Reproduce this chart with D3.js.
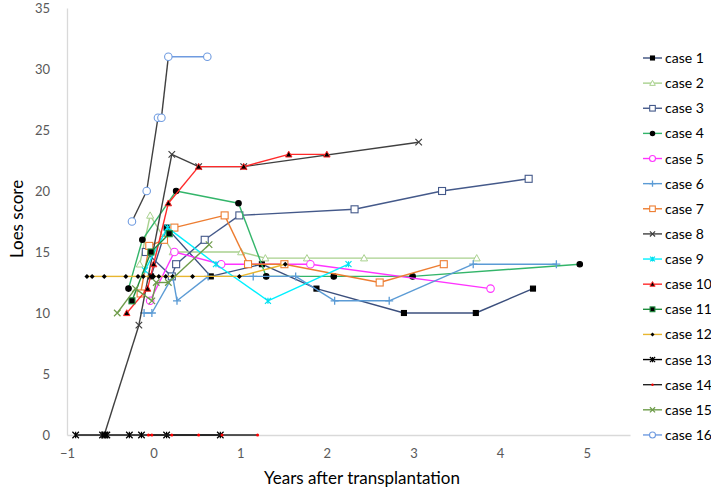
<!DOCTYPE html>
<html><head><meta charset="utf-8">
<script src="https://cdn.jsdelivr.net/npm/d3@7/dist/d3.min.js"></script>
<style>body{margin:0;background:#fff;} svg{display:block;font-family:Lato, "Open Sans", sans-serif;}</style>
</head><body>
<svg id="chart" width="711" height="491"></svg>
<script>
// ---- data ----
const seriesNames = ["case 1","case 2","case 3","case 4","case 5","case 6","case 7","case 8",
  "case 9","case 10","case 11","case 12","case 13","case 14","case 15","case 16"];
const case1X = [-0.03,0.15,0.66,1.25,1.88,2.89,3.72,4.38];
const case1Y = [13,17,13,14,12,10,10,12];
const case2X = [-0.16,-0.04,0.22,1.01,1.29,1.77,2.43,3.73];
const case2Y = [14,18,15,15,14.5,14.5,14.5,14.5];
const case3X = [-0.09,0.21,0.26,0.59,0.99,2.32,3.33,4.33];
const case3Y = [15,13,14,16,18,18.5,20,21];
const case4X = [-0.29,-0.13,0.26,0.98,1.30,2.08,2.99,4.92];
const case4Y = [12,16,20,19,13,13,13,14];
const case5X = [-0.04,0.24,0.78,1.81,3.89];
const case5Y = [11,15,14,14,12];
const case6X = [-0.11,-0.02,0.22,0.27,0.63,1.15,1.64,2.09,2.72,3.69,4.65];
const case6Y = [10,10,13,11,13,13,13,11,11,14,14];
const case7X = [-0.15,-0.05,0.12,0.24,0.82,1.09,1.51,2.61,3.35];
const case7Y = [11.6,15.5,16,17,18,14,14,12.5,14];
const case8X = [-0.57,-0.17,0.21,0.52,1.04,3.06];
const case8Y = [0,9,23,22,22,24];
const case9X = [-0.1,0.16,0.72,1.32,2.25];
const case9Y = [13.5,17,14,11,14];
const case10X = [-0.31,-0.07,0.0,0.17,0.52,1.04,1.56,2.0];
const case10Y = [10,12,14,19,22,22,23,23];
const case11X = [-0.25,-0.03,0.18];
const case11Y = [11,15,16.5];
const case12X = [-0.77,-0.71,-0.57,-0.32,-0.18,-0.12,-0.03,0.0,0.06,0.14,0.22,0.45,0.99,1.52];
const case12Y = [13,13,13,13,13,13,13,13,13,13,13,13,13,14];
const case13X = [-0.90,-0.59,-0.56,-0.54,-0.28,-0.14,0.15,0.77];
const case13Y = [0,0,0,0,0,0,0,0];
const case14X = [-0.06,-0.02,0.21,0.52,0.79,1.20];
const case14Y = [0,0,0,0,0,0];
const case15X = [-0.42,-0.21,-0.02,0.03,0.17,0.64];
const case15Y = [10,12,11,12.5,12.5,15.6];
const case16X = [-0.25,-0.08,0.05,0.09,0.17,0.62];
const case16Y = [17.5,20,26,26,31,31];
const xTicks = [-1,0,1,2,3,4,5];
const yTicks = [0,5,10,15,20,25,30,35];

const allX = [case1X,case2X,case3X,case4X,case5X,case6X,case7X,case8X,case9X,case10X,case11X,case12X,case13X,case14X,case15X,case16X];
const allY = [case1Y,case2Y,case3Y,case4Y,case5Y,case6Y,case7Y,case8Y,case9Y,case10Y,case11Y,case12Y,case13Y,case14Y,case15Y,case16Y];

// ---- styles ----
const styles = [
  {stroke:"#3b4f7d", marker:"square", fill:"#000", mstroke:"#000", size:5},
  {stroke:"#a9d18e", marker:"triangle", fill:"#fff", mstroke:"#a9d18e", size:7},
  {stroke:"#44598a", marker:"square", fill:"#fff", mstroke:"#44598a", size:7},
  {stroke:"#33b56a", marker:"circle", fill:"#000", mstroke:"#000", size:5.5},
  {stroke:"#ff33ff", marker:"circle", fill:"#fff", mstroke:"#ff33ff", size:7.5},
  {stroke:"#5b9bd5", marker:"plus", fill:"none", mstroke:"#5b9bd5", size:8},
  {stroke:"#ed7d31", marker:"square", fill:"#fff", mstroke:"#ed7d31", size:7},
  {stroke:"#404040", marker:"x", fill:"none", mstroke:"#404040", size:6.5},
  {stroke:"#00f0ff", marker:"star", fill:"none", mstroke:"#00e0f0", size:6},
  {stroke:"#ff2a2a", marker:"triangleFill", fill:"#000", mstroke:"#ff2a2a", size:6.5},
  {stroke:"#1e8c3e", marker:"square", fill:"#000", mstroke:"#1e8c3e", size:6},
  {stroke:"#e8b630", marker:"diamond", fill:"#000", mstroke:"#000", size:5},
  {stroke:"#000000", marker:"star", fill:"none", mstroke:"#000", size:6.5},
  {stroke:"#222222", marker:"dot", fill:"#ff0000", mstroke:"#ff0000", size:4},
  {stroke:"#6e9c4a", marker:"x", fill:"none", mstroke:"#6e9c4a", size:6.5},
  {stroke:"#6f9be0", marker:"circle", fill:"#fff", mstroke:"#6f9be0", size:7.5, headStroke:"#404040", headSegments:4}
];

const svg = d3.select("#chart");
const x = d3.scaleLinear().domain([-1,5.5]).range([67,630]);
const y = d3.scaleLinear().domain([0,35]).range([435,8]);

// axes
const xAxis = svg.append("g").attr("transform","translate(0,435)")
  .call(d3.axisBottom(x).tickValues(xTicks).tickSize(0).tickPadding(14).tickFormat(d3.format("d")));
const yAxis = svg.append("g").attr("transform","translate(67,0)")
  .call(d3.axisLeft(y).tickValues(yTicks).tickSize(0).tickPadding(17));
[xAxis,yAxis].forEach(a=>{
  a.select(".domain").attr("stroke","#d9d9d9").attr("stroke-width",1.3);
  a.selectAll("text").attr("fill","#595959").style("font-size","13px").style("font-family","Lato, sans-serif");
});

svg.append("text").attr("x",362).attr("y",484).attr("text-anchor","middle")
  .style("font-size","17px").attr("fill","#000").text("Years after transplantation");
svg.append("text").attr("transform","translate(23,219) rotate(-90)").attr("text-anchor","middle")
  .style("font-size","17px").attr("fill","#000").text("Loes score");

function drawMarker(g, cx, cy, st, scale){
  const s = st.size*(scale||1), h = s/2;
  switch(st.marker){
    case "square":
      g.append("rect").attr("x",cx-h).attr("y",cy-h).attr("width",s).attr("height",s)
        .attr("fill",st.fill).attr("stroke",st.mstroke).attr("stroke-width",1.1); break;
    case "circle":
      g.append("circle").attr("cx",cx).attr("cy",cy).attr("r",h)
        .attr("fill",st.fill).attr("stroke",st.mstroke).attr("stroke-width",1.1); break;
    case "dot":
      g.append("circle").attr("cx",cx).attr("cy",cy).attr("r",h*0.75).attr("fill",st.fill); break;
    case "triangle":
    case "triangleFill":
      g.append("path").attr("d",`M${cx},${cy-h} L${cx+h},${cy+h*0.8} L${cx-h},${cy+h*0.8} Z`)
        .attr("fill",st.fill).attr("stroke",st.mstroke).attr("stroke-width",1); break;
    case "diamond":
      g.append("path").attr("d",`M${cx},${cy-h} L${cx+h},${cy} L${cx},${cy+h} L${cx-h},${cy} Z`)
        .attr("fill",st.fill); break;
    case "plus":
      g.append("path").attr("d",`M${cx-h},${cy} L${cx+h},${cy} M${cx},${cy-h} L${cx},${cy+h}`)
        .attr("stroke",st.mstroke).attr("stroke-width",1.3); break;
    case "x":
      g.append("path").attr("d",`M${cx-h},${cy-h} L${cx+h},${cy+h} M${cx-h},${cy+h} L${cx+h},${cy-h}`)
        .attr("stroke",st.mstroke).attr("stroke-width",1.2); break;
    case "star":
      g.append("path").attr("d",`M${cx-h},${cy-h} L${cx+h},${cy+h} M${cx-h},${cy+h} L${cx+h},${cy-h} M${cx},${cy-h} L${cx},${cy+h}`)
        .attr("stroke",st.mstroke).attr("stroke-width",1.2); break;
  }
}

// series
const plot = svg.append("g");
allX.forEach((xs,i)=>{
  const st = styles[i];
  const pts = xs.map((v,j)=>[x(v), y(allY[i][j])]);
  const g = plot.append("g");
  for(let j=0;j<pts.length-1;j++){
    const col = (st.headStroke && j < st.headSegments) ? st.headStroke : st.stroke;
    g.append("line").attr("x1",pts[j][0]).attr("y1",pts[j][1]).attr("x2",pts[j+1][0]).attr("y2",pts[j+1][1])
      .attr("stroke",col).attr("stroke-width",1.4);
  }
  pts.forEach(p=>drawMarker(g,p[0],p[1],st));
});

// legend
const leg = svg.append("g");
seriesNames.forEach((n,i)=>{
  const cy = 58 + i*25.13;
  const st = styles[i];
  leg.append("line").attr("x1",643).attr("x2",662).attr("y1",cy).attr("y2",cy)
    .attr("stroke",st.stroke).attr("stroke-width",1.4);
  drawMarker(leg,652.5,cy,st,0.8);
  leg.append("text").attr("x",665).attr("y",cy+5).style("font-size","14px").attr("fill","#000").text(n);
});
</script>
</body></html>
